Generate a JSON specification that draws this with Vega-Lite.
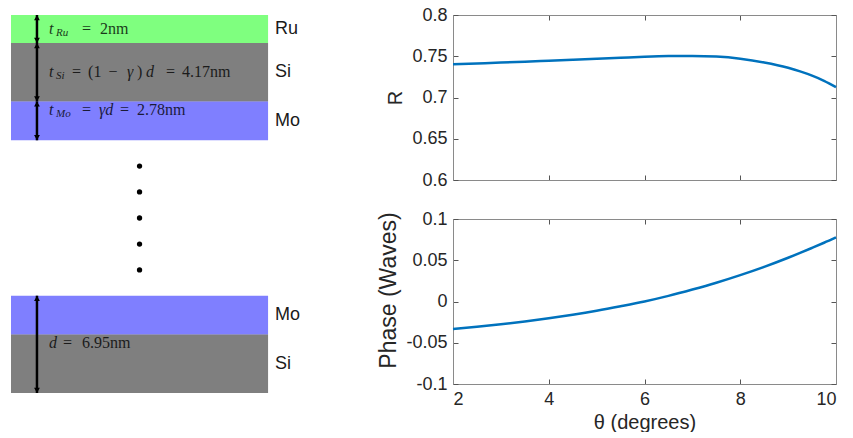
{
  "$schema": "https://vega.github.io/schema/vega-lite/v6.json",
  "background": "white",
  "padding": {"left": 11, "top": 6, "right": 0, "bottom": 0},
  "config": {
    "view": {"stroke": null},
    "font": "Liberation Sans",
    "axis": {
      "grid": false,
      "domainColor": "#8a8a8a",
      "domainWidth": 1,
      "tickColor": "#555555",
      "tickWidth": 1,
      "tickSize": -5,
      "labelFont": "Liberation Sans",
      "labelFontSize": 18,
      "labelColor": "#262626",
      "labelPadding": 11,
      "titleFont": "Liberation Sans",
      "titleFontSize": 20,
      "titleFontWeight": "normal",
      "titleColor": "#262626"
    }
  },
  "datasets": {
    "layers": [
      {"material": "Ru", "x0": 0, "x1": 1, "top": 0, "bottom": 2},
      {"material": "Si", "x0": 0, "x1": 1, "top": 2, "bottom": 6.17},
      {"material": "Mo", "x0": 0, "x1": 1, "top": 6.17, "bottom": 8.95},
      {"material": "Mo", "x0": 0, "x1": 1, "top": 20.05, "bottom": 22.83},
      {"material": "Si", "x0": 0, "x1": 1, "top": 22.83, "bottom": 27}
    ],
    "arrows": [
      {"x": 0.101, "start": 0, "end": 2},
      {"x": 0.101, "start": 2, "end": 6.17},
      {"x": 0.101, "start": 6.17, "end": 8.95},
      {"x": 0.101, "start": 20.05, "end": 27}
    ],
    "dots": [
      {"x": 0.5, "depth": 10.79},
      {"x": 0.5, "depth": 12.64},
      {"x": 0.5, "depth": 14.5},
      {"x": 0.5, "depth": 16.36},
      {"x": 0.5, "depth": 18.21}
    ],
    "materialLabels": [
      {"x": 1.027, "depth": 1.0, "text": "Ru"},
      {"x": 1.027, "depth": 4.08, "text": "Si"},
      {"x": 1.027, "depth": 7.56, "text": "Mo"},
      {"x": 1.027, "depth": 21.44, "text": "Mo"},
      {"x": 1.027, "depth": 24.95, "text": "Si"}
    ],
    "italicText": [
      {"x": 0.148, "depth": 1.0, "text": "t"},
      {"x": 0.148, "depth": 4.07, "text": "t"},
      {"x": 0.451, "depth": 4.07, "text": "γ"},
      {"x": 0.525, "depth": 4.07, "text": "d"},
      {"x": 0.148, "depth": 6.79, "text": "t"},
      {"x": 0.342, "depth": 6.79, "text": "γd"},
      {"x": 0.148, "depth": 23.43, "text": "d"}
    ],
    "subscripts": [
      {"x": 0.175, "depth": 1.0, "text": "Ru"},
      {"x": 0.175, "depth": 4.07, "text": "Si"},
      {"x": 0.175, "depth": 6.79, "text": "Mo"}
    ],
    "uprightText": [
      {"x": 0.276, "depth": 1.0, "text": "="},
      {"x": 0.346, "depth": 1.0, "text": "2nm"},
      {"x": 0.237, "depth": 4.07, "text": "="},
      {"x": 0.300, "depth": 4.07, "text": "(1"},
      {"x": 0.379, "depth": 4.07, "text": "−"},
      {"x": 0.490, "depth": 4.07, "text": ")"},
      {"x": 0.603, "depth": 4.07, "text": "="},
      {"x": 0.665, "depth": 4.07, "text": "4.17nm"},
      {"x": 0.276, "depth": 6.79, "text": "="},
      {"x": 0.424, "depth": 6.79, "text": "="},
      {"x": 0.490, "depth": 6.79, "text": "2.78nm"},
      {"x": 0.202, "depth": 23.43, "text": "="},
      {"x": 0.276, "depth": 23.43, "text": "6.95nm"}
    ],
    "curves": [
      {"theta": 2.0, "R": 0.7403, "phase": -0.0333},
      {"theta": 2.5, "R": 0.7413, "phase": -0.0306},
      {"theta": 3.0, "R": 0.7423, "phase": -0.0276},
      {"theta": 3.5, "R": 0.7434, "phase": -0.0242},
      {"theta": 4.0, "R": 0.7446, "phase": -0.0203},
      {"theta": 4.5, "R": 0.7458, "phase": -0.0160},
      {"theta": 5.0, "R": 0.7470, "phase": -0.0112},
      {"theta": 5.5, "R": 0.7482, "phase": -0.0058},
      {"theta": 6.0, "R": 0.7494, "phase": 0.0000},
      {"theta": 6.5, "R": 0.7502, "phase": 0.0068},
      {"theta": 7.0, "R": 0.7504, "phase": 0.0145},
      {"theta": 7.5, "R": 0.7496, "phase": 0.0228},
      {"theta": 8.0, "R": 0.7470, "phase": 0.0320},
      {"theta": 8.5, "R": 0.7425, "phase": 0.0420},
      {"theta": 9.0, "R": 0.7360, "phase": 0.0530},
      {"theta": 9.25, "R": 0.7316, "phase": 0.0589},
      {"theta": 9.5, "R": 0.7265, "phase": 0.0650},
      {"theta": 9.75, "R": 0.7203, "phase": 0.0712},
      {"theta": 10.0, "R": 0.7125, "phase": 0.0777}
    ]
  },
  "spacing": 66,
  "hconcat": [
    {
      "width": 300,
      "height": 378,
      "layer": [
        {
          "data": {"name": "layers"},
          "mark": {"type": "rect", "opacity": 0.5},
          "encoding": {
            "x": {"field": "x0", "type": "quantitative", "scale": {"domain": [0, 1.167], "nice": false, "zero": false}, "axis": null},
            "x2": {"field": "x1"},
            "y": {"field": "top", "type": "quantitative", "scale": {"domain": [0, 27], "nice": false, "zero": false, "reverse": true}, "axis": null},
            "y2": {"field": "bottom"},
            "color": {"field": "material", "type": "nominal", "scale": {"domain": ["Ru", "Si", "Mo"], "range": ["#00ff00", "#000000", "#0000ff"]}, "legend": null}
          }
        },
        {
          "data": {"name": "uprightText"},
          "mark": {"type": "text", "font": "Liberation Serif", "fontSize": 16, "align": "left", "baseline": "middle", "color": "#000000", "opacity": 0.78},
          "encoding": {
            "x": {"field": "x", "type": "quantitative", "scale": {"domain": [0, 1.167], "nice": false, "zero": false}, "axis": null},
            "y": {"field": "depth", "type": "quantitative", "scale": {"domain": [0, 27], "nice": false, "zero": false, "reverse": true}, "axis": null},
            "text": {"field": "text"}
          }
        },
        {
          "data": {"name": "italicText"},
          "mark": {"type": "text", "font": "Liberation Serif", "fontSize": 16, "fontStyle": "italic", "align": "left", "baseline": "middle", "color": "#000000", "opacity": 0.78},
          "encoding": {
            "x": {"field": "x", "type": "quantitative", "scale": {"domain": [0, 1.167], "nice": false, "zero": false}, "axis": null},
            "y": {"field": "depth", "type": "quantitative", "scale": {"domain": [0, 27], "nice": false, "zero": false, "reverse": true}, "axis": null},
            "text": {"field": "text"}
          }
        },
        {
          "data": {"name": "subscripts"},
          "mark": {"type": "text", "font": "Liberation Serif", "fontSize": 11, "fontStyle": "italic", "align": "left", "baseline": "middle", "dy": 4, "color": "#000000", "opacity": 0.78},
          "encoding": {
            "x": {"field": "x", "type": "quantitative", "scale": {"domain": [0, 1.167], "nice": false, "zero": false}, "axis": null},
            "y": {"field": "depth", "type": "quantitative", "scale": {"domain": [0, 27], "nice": false, "zero": false, "reverse": true}, "axis": null},
            "text": {"field": "text"}
          }
        },
        {
          "data": {"name": "arrows"},
          "mark": {"type": "rule", "color": "#000000", "strokeWidth": 2.5},
          "encoding": {
            "x": {"field": "x", "type": "quantitative", "scale": {"domain": [0, 1.167], "nice": false, "zero": false}, "axis": null},
            "y": {"field": "start", "type": "quantitative", "scale": {"domain": [0, 27], "nice": false, "zero": false, "reverse": true}, "axis": null},
            "y2": {"field": "end"}
          }
        },
        {
          "data": {"name": "arrows"},
          "mark": {"type": "point", "filled": true, "color": "#000000", "opacity": 1, "size": 110, "strokeWidth": 0, "shape": "M0,0L-0.55,1L0.55,1Z"},
          "encoding": {
            "x": {"field": "x", "type": "quantitative", "scale": {"domain": [0, 1.167], "nice": false, "zero": false}, "axis": null},
            "y": {"field": "start", "type": "quantitative", "scale": {"domain": [0, 27], "nice": false, "zero": false, "reverse": true}, "axis": null}
          }
        },
        {
          "data": {"name": "arrows"},
          "mark": {"type": "point", "filled": true, "color": "#000000", "opacity": 1, "size": 110, "strokeWidth": 0, "shape": "M0,0L-0.55,-1L0.55,-1Z"},
          "encoding": {
            "x": {"field": "x", "type": "quantitative", "scale": {"domain": [0, 1.167], "nice": false, "zero": false}, "axis": null},
            "y": {"field": "end", "type": "quantitative", "scale": {"domain": [0, 27], "nice": false, "zero": false, "reverse": true}, "axis": null}
          }
        },
        {
          "data": {"name": "dots"},
          "mark": {"type": "point", "filled": true, "color": "#000000", "opacity": 1, "size": 28, "shape": "circle"},
          "encoding": {
            "x": {"field": "x", "type": "quantitative", "scale": {"domain": [0, 1.167], "nice": false, "zero": false}, "axis": null},
            "y": {"field": "depth", "type": "quantitative", "scale": {"domain": [0, 27], "nice": false, "zero": false, "reverse": true}, "axis": null}
          }
        },
        {
          "data": {"name": "materialLabels"},
          "mark": {"type": "text", "font": "Liberation Sans", "fontSize": 18, "align": "left", "baseline": "middle", "color": "#1a1a1a"},
          "encoding": {
            "x": {"field": "x", "type": "quantitative", "scale": {"domain": [0, 1.167], "nice": false, "zero": false}, "axis": null},
            "y": {"field": "depth", "type": "quantitative", "scale": {"domain": [0, 27], "nice": false, "zero": false, "reverse": true}, "axis": null},
            "text": {"field": "text"}
          }
        }
      ]
    },
    {
      "spacing": 21,
      "vconcat": [
        {
          "width": 383,
          "height": 165,
          "data": {"name": "curves"},
          "resolve": {"axis": {"x": "independent", "y": "independent"}},
          "layer": [
            {
              "mark": {"type": "line", "color": "#0072bd", "strokeWidth": 2.5, "interpolate": "monotone"},
              "encoding": {
                "x": {"field": "theta", "type": "quantitative", "scale": {"domain": [2, 10], "nice": false, "zero": false},
                      "axis": {"orient": "bottom", "values": [2, 4, 6, 8, 10], "labels": false, "title": null}},
                "y": {"field": "R", "type": "quantitative", "scale": {"domain": [0.6, 0.8], "nice": false, "zero": false},
                      "axis": {"orient": "left", "values": [0.6, 0.65, 0.7, 0.75, 0.8], "labelExpr": "'' + datum.value", "title": "R", "titlePadding": 6}}
              }
            },
            {
              "mark": {"type": "line", "opacity": 0},
              "encoding": {
                "x": {"field": "theta", "type": "quantitative", "scale": {"domain": [2, 10], "nice": false, "zero": false},
                      "axis": {"orient": "top", "values": [2, 4, 6, 8, 10], "labels": false, "title": null}},
                "y": {"field": "R", "type": "quantitative", "scale": {"domain": [0.6, 0.8], "nice": false, "zero": false},
                      "axis": {"orient": "right", "values": [0.6, 0.65, 0.7, 0.75, 0.8], "labels": false, "title": null}}
              }
            }
          ]
        },
        {
          "width": 383,
          "height": 165,
          "data": {"name": "curves"},
          "resolve": {"axis": {"x": "independent", "y": "independent"}},
          "layer": [
            {
              "mark": {"type": "line", "color": "#0072bd", "strokeWidth": 2.5, "interpolate": "monotone"},
              "encoding": {
                "x": {"field": "theta", "type": "quantitative", "scale": {"domain": [2, 10], "nice": false, "zero": false},
                      "axis": {"orient": "bottom", "values": [2, 4, 6, 8, 10], "labelExpr": "'' + datum.value", "title": "θ (degrees)", "titlePadding": 4}},
                "y": {"field": "phase", "type": "quantitative", "scale": {"domain": [-0.1, 0.1], "nice": false, "zero": false},
                      "axis": {"orient": "left", "values": [-0.1, -0.05, 0, 0.05, 0.1], "labelExpr": "'' + datum.value", "title": "Phase (Waves)", "titleFontSize": 23, "titleY": 71, "titlePadding": 5}}
              }
            },
            {
              "mark": {"type": "line", "opacity": 0},
              "encoding": {
                "x": {"field": "theta", "type": "quantitative", "scale": {"domain": [2, 10], "nice": false, "zero": false},
                      "axis": {"orient": "top", "values": [2, 4, 6, 8, 10], "labels": false, "title": null}},
                "y": {"field": "phase", "type": "quantitative", "scale": {"domain": [-0.1, 0.1], "nice": false, "zero": false},
                      "axis": {"orient": "right", "values": [-0.1, -0.05, 0, 0.05, 0.1], "labels": false, "title": null}}
              }
            }
          ]
        }
      ]
    }
  ]
}
